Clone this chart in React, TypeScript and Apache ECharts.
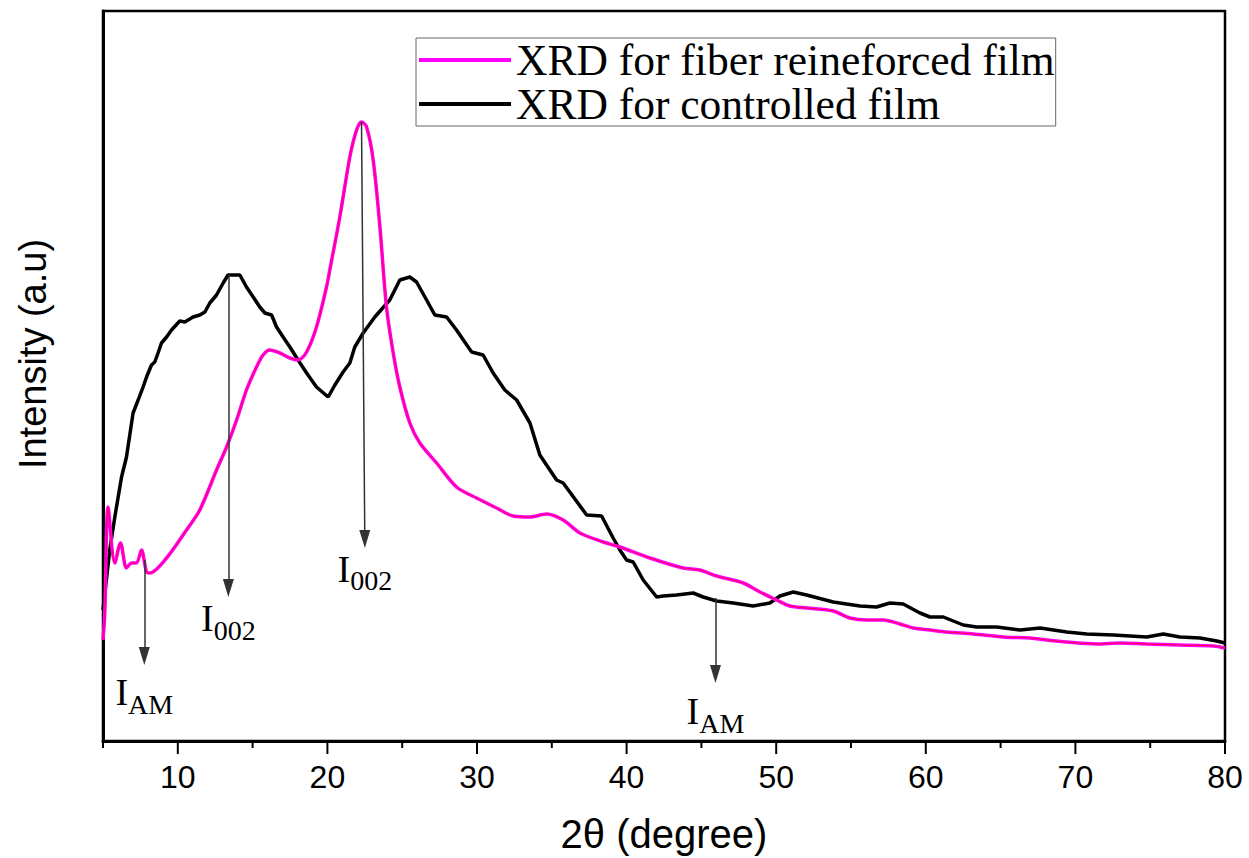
import React, { useEffect, useRef } from "react";
import * as echarts from "echarts";

// 2θ (degree) vs intensity (a.u.)
const controlledFilm: [number, number][] = [
  [5.0, 131], [5.45, 191], [5.79, 224], [6.24, 264], [6.57, 284], [7.01, 328], [7.35, 341], [7.68, 354],
  [7.91, 364], [8.24, 376], [8.46, 379], [8.68, 388], [8.91, 398], [9.25, 404], [9.58, 411], [10.13, 420],
  [10.47, 419], [11.02, 424], [11.47, 426], [11.81, 429], [12.14, 438], [12.59, 446], [13.03, 458],
  [13.36, 466], [14.15, 466], [14.59, 454], [15.04, 444], [15.48, 434], [15.82, 428], [16.27, 426],
  [16.6, 414], [17.04, 404], [17.49, 394], [18.04, 381], [18.61, 368], [19.27, 354], [20.05, 344],
  [20.5, 356], [21.05, 369], [21.5, 378], [21.83, 394], [22.39, 408], [23.17, 424], [24.17, 441],
  [24.84, 461], [25.51, 464], [25.96, 459], [26.63, 441], [27.18, 426], [27.97, 424], [28.63, 411],
  [29.64, 389], [30.41, 386], [31.08, 368], [31.86, 351], [32.65, 341], [33.54, 318], [34.2, 286],
  [35.32, 261], [35.76, 258], [37.33, 226], [38.33, 225], [39.1, 203], [39.55, 191], [40.0, 181],
  [40.44, 179], [41.11, 161], [42.01, 144], [42.45, 145], [43.34, 146], [44.45, 148], [45.12, 144],
  [46.02, 140], [47.13, 138], [48.46, 135], [49.58, 138], [50.25, 145], [51.14, 149], [52.03, 146],
  [53.81, 139], [55.6, 135], [56.71, 134], [57.6, 138], [58.49, 137], [59.61, 128], [60.28, 124],
  [61.17, 124], [62.5, 116], [63.4, 114], [64.74, 114], [66.3, 111], [67.64, 113], [69.42, 109],
  [70.76, 107], [72.53, 106], [74.77, 104], [75.88, 107], [76.99, 104], [78.33, 103], [79.45, 100],
  [80.0, 98],
];

const fiberFilm: [number, number][] = [
  [5.0, 101], [5.12, 128], [5.34, 234], [5.79, 178], [6.17, 198], [6.57, 173], [6.91, 178], [7.24, 178],
  [7.57, 191], [7.91, 169], [8.13, 168], [9.25, 183], [10.58, 211], [11.47, 231], [12.59, 271],
  [13.26, 294], [13.93, 321], [14.59, 351], [15.26, 374], [15.7, 386], [16.15, 391], [16.82, 388],
  [17.49, 383], [18.04, 381], [18.61, 389], [19.27, 414], [19.94, 454], [20.16, 471], [20.83, 524],
  [21.5, 584], [21.95, 611], [22.28, 619], [22.62, 614], [23.06, 581], [23.51, 514], [23.95, 434],
  [24.4, 388], [24.84, 354], [25.51, 318], [26.18, 298], [27.3, 278], [28.63, 254], [29.97, 243],
  [31.31, 233], [32.42, 225], [33.54, 224], [34.65, 227], [35.76, 221], [36.88, 208], [38.44, 199],
  [39.55, 194], [41.56, 183], [43.78, 173], [44.9, 171], [46.02, 165], [47.8, 158], [48.91, 149],
  [50.03, 141], [50.92, 135], [52.03, 133], [53.81, 130], [54.93, 123], [56.05, 121], [57.16, 121],
  [58.27, 117], [59.16, 113], [60.28, 111], [61.4, 109], [63.18, 107], [65.18, 104], [66.97, 103],
  [68.09, 101], [69.42, 99], [71.43, 97], [72.98, 98], [74.77, 97], [76.99, 96], [79.22, 95], [80.0, 93],
];

const seriesNames = ["XRD for fiber reineforced film", "XRD for controlled film"];
const xMajorTicks = [10, 20, 30, 40, 50, 60, 70, 80];
const xMinorTicks = [5, 15, 25, 35, 45, 55, 65, 75];

// annotation arrows: start (on the curve) and tip, with label
const arrowLabels = ["{i|I}{s|AM}", "{i|I}{s|002}", "{i|I}{s|002}", "{i|I}{s|AM}"];
const arrowStarts: [number, number][] = [[7.76, 181], [13.38, 466], [22.28, 619], [45.94, 143]];
const arrowEnds: [number, number][] = [[7.76, 85], [13.38, 153], [22.5, 202], [45.94, 67]];
const arrowLabelGaps = [17, 11, 11, 18];

export default function App() {
  const ref = useRef<HTMLDivElement>(null);
  useEffect(() => {
    if (!ref.current) return;
    const chart = echarts.init(ref.current, undefined, { renderer: "svg" });
    const sans = "Liberation Sans, Arial, sans-serif";
    const serif = "Liberation Serif, Times New Roman, serif";
    const markData = arrowStarts.map((s, i) => [
      { name: arrowLabels[i], coord: s, label: { distance: arrowLabelGaps[i] } },
      { coord: arrowEnds[i] },
    ]);
    chart.setOption({
      animation: false,
      backgroundColor: "#fff",
      grid: {
        left: 103,
        right: 24,
        top: 11,
        bottom: 117,
        show: true,
        borderColor: "#000",
        borderWidth: 2.5,
        containLabel: false,
        outerBoundsMode: "none",
      },
      legend: {
        data: seriesNames,
        orient: "vertical",
        left: 416,
        top: 38,
        icon: "rect",
        itemWidth: 92,
        itemHeight: 4,
        itemGap: 0,
        padding: [0, 1, 0, 3],
        borderColor: "#666",
        borderWidth: 1,
        backgroundColor: "#fff",
        selectedMode: false,
        textStyle: {
          fontFamily: serif,
          fontSize: 43.5,
          color: "#000",
          lineHeight: 44,
        },
      },
      xAxis: {
        type: "value",
        min: 5,
        max: 80,
        interval: 5,
        position: "bottom",
        name: "2θ (degree)",
        nameLocation: "middle",
        nameGap: 71,
        nameTextStyle: { fontFamily: sans, fontSize: 40, color: "#000", lineHeight: 44 },
        axisLine: { show: true, lineStyle: { color: "#000", width: 3 } },
        axisTick: { show: false },
        axisLabel: {
          margin: 20,
          fontFamily: sans,
          fontSize: 32,
          color: "#000",
          showMinLabel: false,
          formatter: (v: number) => (v % 10 === 0 ? String(v) : ""),
        },
        splitLine: { show: false },
      },
      yAxis: {
        type: "value",
        min: 0,
        max: 730,
        axisLine: { show: true, lineStyle: { color: "#000", width: 3 } },
        axisTick: { show: false },
        axisLabel: { show: false },
        splitLine: { show: false },
      },
      series: [
        {
          name: seriesNames[1],
          type: "line",
          data: controlledFilm,
          showSymbol: false,
          color: "#000",
          lineStyle: { color: "#000", width: 3.5 },
          z: 2,
          markLine: {
            silent: true,
            symbol: ["none", "triangle"],
            symbolSize: [11, 18],
            lineStyle: { color: "#333", width: 1.5, type: "solid" },
            itemStyle: { color: "#000" },
            label: {
              show: true,
              position: "end",
              formatter: (p: any) => p.name,
              rich: {
                i: { fontFamily: serif, fontSize: 38, color: "#000", lineHeight: 40, verticalAlign: "top" },
                s: {
                  fontFamily: serif,
                  fontSize: 28,
                  color: "#000",
                  lineHeight: 30,
                  verticalAlign: "top",
                  padding: [17, 0, 0, 0],
                },
              },
            },
            emphasis: { disabled: true },
            data: markData,
          },
        },
        {
          name: seriesNames[0],
          type: "line",
          data: fiberFilm,
          showSymbol: false,
          smooth: 0.3,
          color: "#ff00ff",
          lineStyle: { color: "#ff00ff", width: 3.5 },
          z: 3,
        },
        {
          name: "fiber-core",
          type: "line",
          data: fiberFilm,
          showSymbol: false,
          smooth: 0.3,
          color: "#ff0040",
          lineStyle: { color: "#ff0040", width: 1 },
          z: 4,
        },
      ],
    });

    // axis ticks placed through the axis scale
    const y0 = chart.convertToPixel({ yAxisIndex: 0 }, 0) as number;
    const tickEls: any[] = [];
    const addTick = (v: number, len: number) => {
      const px = chart.convertToPixel({ xAxisIndex: 0 }, v) as number;
      tickEls.push({
        type: "line",
        shape: { x1: px, y1: y0, x2: px, y2: y0 + len },
        style: { stroke: "#000", lineWidth: 2 },
        silent: true,
        z: 10,
      });
    };
    xMajorTicks.forEach((v) => addTick(v, 13));
    xMinorTicks.forEach((v) => addTick(v, 7));

    chart.setOption({
      graphic: [
        {
          type: "text",
          x: 33,
          y: 354,
          rotation: Math.PI / 2,
          silent: true,
          style: {
            text: "Intensity (a.u)",
            font: `38px ${sans}`,
            fill: "#000",
            textAlign: "center",
            textVerticalAlign: "middle",
          },
        },
        ...tickEls,
      ],
    });
    return () => chart.dispose();
  }, []);
  return (
    <div
      ref={ref}
      style={{ position: "absolute", left: 0, top: 0, width: 1249, height: 858, background: "#fff" }}
    />
  );
}
